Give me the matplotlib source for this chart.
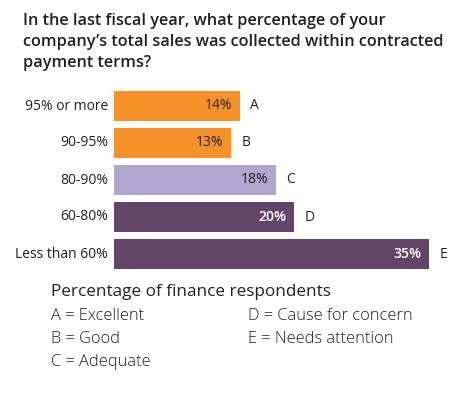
import matplotlib.pyplot as plt

# chart data
categories = ['95% or more', '90-95%', '80-90%', '60-80%', 'Less than 60%']
values = [14, 13, 18, 20, 35]
grades = ['A', 'B', 'C', 'D', 'E']
legend_left = ['A = Excellent', 'B = Good', 'C = Adequate']
legend_right = ['D = Cause for concern', 'E = Needs attention']

colors = ['#F7922A', '#F7922A', '#B1A6D0', '#634569', '#634569']
label_colors = ['#231F20', '#231F20', '#231F20', 'white', 'white']
label_weights = ['normal', 'normal', 'normal', 'semibold', 'semibold']

plt.rcParams['font.family'] = ['Open Sans', 'DejaVu Sans']

W, H = 463, 399
fig = plt.figure(figsize=(W / 100, H / 100), dpi=100)

# axes placed in pixel coords: bars from x=114, rows from y=91 to 269
ax = fig.add_axes([114 / W, 1 - 269 / H, (W - 114) / W, (269 - 91) / H])
ax.set_xlim(0, (W - 114) / 9.0)
ax.set_ylim(len(values) - 1 + 0.405, -0.405)
ax.axis('off')

y = list(range(len(values)))
ax.barh(y, values, height=0.81, color=colors)

for i, v in enumerate(values):
    ax.annotate(f'{v}%', (v, i), xytext=(-5.5, 0), textcoords='offset points',
                ha='right', va='center', fontsize=10,
                color=label_colors[i], fontweight=label_weights[i])
    ax.annotate(grades[i], (v, i), xytext=(7.5, 0), textcoords='offset points',
                ha='left', va='center', fontsize=10, color='#231F20')
    fig.text(108 / W, 1 - (106 + 37 * i) / H, categories[i], ha='right',
             va='center', fontsize=10, color='#231F20')

# title
title = ('In the last fiscal year, what percentage of your\n'
         'company\u2019s total sales was collected within contracted\n'
         'payment terms?')
fig.text(23 / W, 1 - 13 / H, title, ha='left', va='top', fontsize=11.7,
         fontweight='semibold', color='#231F20', linespacing=1.42)

# legend block
fig.text(51 / W, 1 - 292 / H, 'Percentage of finance respondents',
         ha='left', va='center', fontsize=12.3, color='#231F20')
for i, t in enumerate(legend_left):
    fig.text(51 / W, 1 - (316 + 23 * i) / H, t, ha='left', va='center',
             fontsize=11.8, fontweight='light', color='#231F20')
for i, t in enumerate(legend_right):
    fig.text(248 / W, 1 - (316 + 23 * i) / H, t, ha='left', va='center',
             fontsize=11.8, fontweight='light', color='#231F20')

fig.savefig('out.png', dpi=100)
